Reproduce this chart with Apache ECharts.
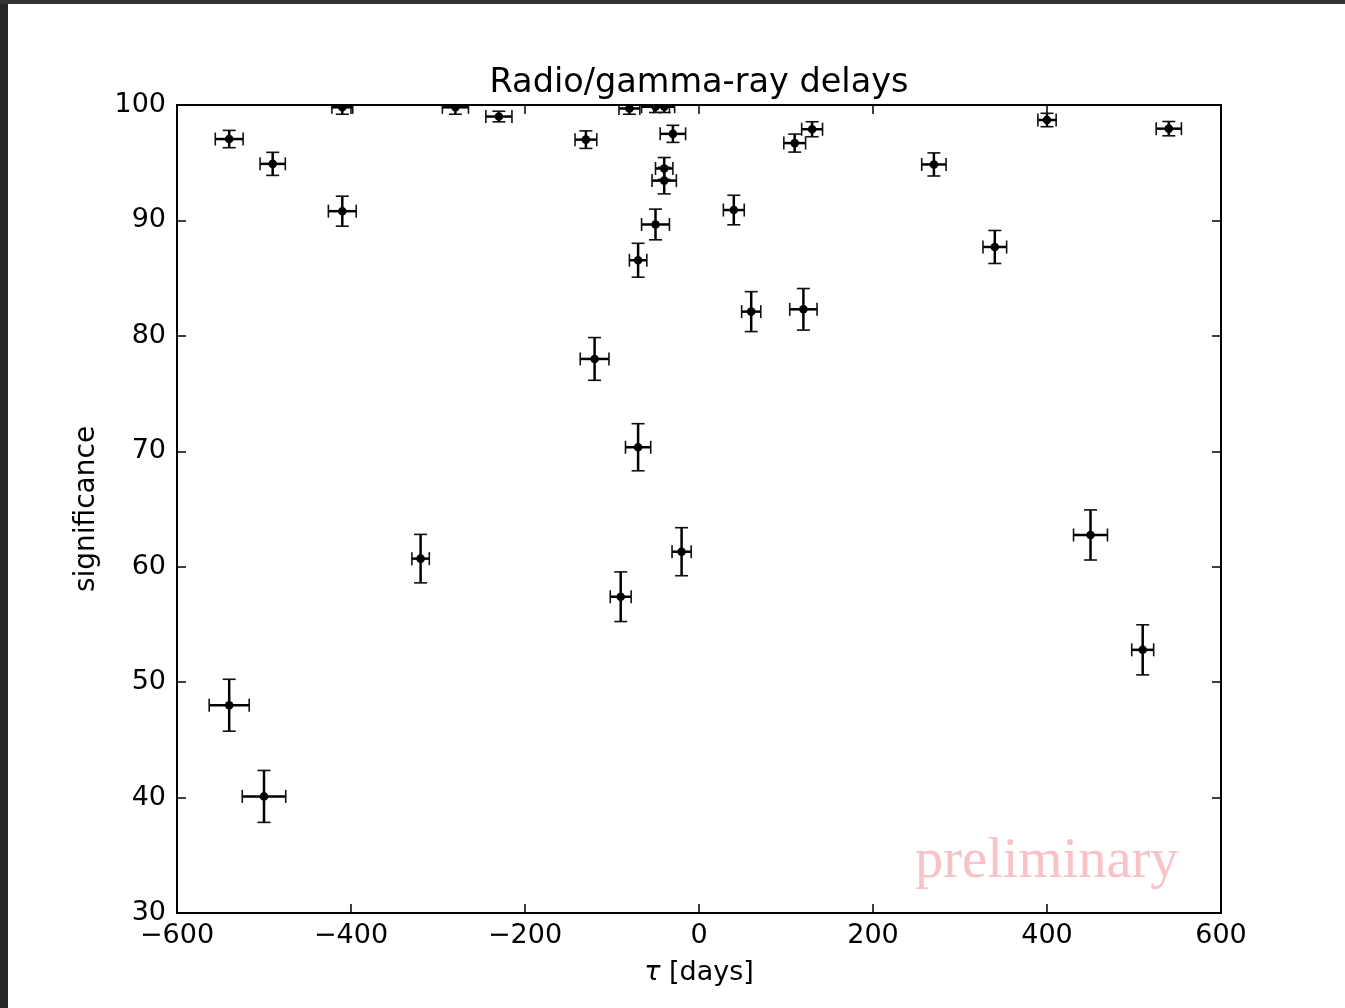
<!DOCTYPE html>
<html>
<head>
<meta charset="utf-8">
<script src="https://cdn.jsdelivr.net/npm/echarts@6/dist/echarts.min.js"></script>
<style>
html,body{margin:0;padding:0;background:#fff;}
#c{width:1345px;height:1008px;}
</style>
</head>
<body>
<div id="c"></div>
<script>
// delay tau [days]
const tau = [-540, -490, -410, -410, -280, -230, -500, -540, -320, -120, -130, -80, -50, -40, -30, -40, -40, -50, -70, -70, -20, -90, 40, 60, 120, 110, 130, 270, 340, 400, 450, 510, 540];
// significance
const significance = [97.05, 94.9, 90.8, 99.8, 99.8, 99.0, 40.1, 48.0, 60.7, 78.0, 97.0, 99.7, 99.85, 99.85, 97.5, 94.5, 93.45, 89.65, 86.55, 70.35, 61.3, 57.4, 90.9, 82.1, 82.3, 96.7, 97.9, 94.85, 87.7, 98.7, 62.75, 52.8, 97.95];
// horizontal (tau) errors
const tauErr = [16, 14.5, 16, 12, 15, 15, 25, 23, 10, 16.5, 12.5, 12, 16, 12, 14.6, 10, 14, 16, 10, 14.5, 11, 12, 12, 11, 15.7, 12.5, 12, 14, 13.6, 10.5, 19.5, 12.6, 14.5];
// vertical (significance) errors
const sigErr = [0.75, 1.0, 1.3, 0.6, 0.6, 0.46, 2.25, 2.25, 2.1, 1.85, 0.76, 0.5, 0.5, 0.5, 0.74, 0.95, 1.15, 1.33, 1.47, 2.04, 2.08, 2.15, 1.28, 1.73, 1.8, 0.78, 0.65, 1.0, 1.43, 0.58, 2.17, 2.17, 0.62];

const xTicks = [-600, -400, -200, 0, 200, 400, 600];
const yTicks = [30, 40, 50, 60, 70, 80, 90, 100];

const data = tau.map((t, i) => [t, significance[i], tauErr[i], sigErr[i]]);

const chart = echarts.init(document.getElementById('c'));
const font = 'DejaVu Sans';
const minus = v => String(v).replace('-', '\u2212');

const tickStyle = {inside: true, length: 9, lineStyle: {color: '#000', width: 1.5}};
const lineStyle = {show: true, onZero: false, lineStyle: {color: '#000', width: 2}};

chart.setOption({
  backgroundColor: '#fff',
  animation: false,
  grid: {left: 177, top: 105, width: 1044, height: 808, show: false},
  xAxis: [{
    type: 'value', min: -600, max: 600, interval: 200,
    axisLine: lineStyle, axisTick: tickStyle, splitLine: {show: false},
    axisLabel: {formatter: minus, color: '#000', fontFamily: font, fontSize: 27, margin: 9},
    name: '{i|\u03c4} [days]', nameLocation: 'middle', nameGap: 46,
    nameTextStyle: {color: '#000', fontFamily: font, fontSize: 27,
      rich: {i: {fontStyle: 'italic', fontFamily: font, fontSize: 27, color: '#000'}}}
  }, {
    type: 'value', position: 'top', min: -600, max: 600, interval: 200,
    axisLine: lineStyle, axisTick: tickStyle, splitLine: {show: false},
    axisLabel: {show: false}
  }],
  yAxis: [{
    type: 'value', min: 30, max: 100, interval: 10,
    axisLine: lineStyle, axisTick: tickStyle, splitLine: {show: false},
    axisLabel: {color: '#000', fontFamily: font, fontSize: 27, margin: 11},
    name: 'significance', nameLocation: 'middle', nameGap: 76, nameRotate: 90,
    nameTextStyle: {color: '#000', fontFamily: font, fontSize: 28}
  }, {
    type: 'value', position: 'right', min: 30, max: 100, interval: 10,
    axisLine: lineStyle, axisTick: tickStyle, splitLine: {show: false},
    axisLabel: {show: false}
  }],
  graphic: [
    {type: 'rect', shape: {x: 0, y: 0, width: 8, height: 1008}, style: {fill: '#262626'}, silent: true},
    {type: 'rect', shape: {x: 0, y: 0, width: 1345, height: 4}, style: {fill: '#333'}, silent: true},
    {type: 'text', x: 699, y: 83, style: {text: 'Radio/gamma-ray delays', fill: '#000', font: '33.5px "DejaVu Sans"', textAlign: 'center', textVerticalAlign: 'middle'}},
    {type: 'text', x: 915, y: 862, z: 100, style: {text: 'preliminary', fill: '#f7c3c8', font: '56.5px "Liberation Serif"', textAlign: 'left', textVerticalAlign: 'middle'}}
  ],
  series: [{
    type: 'custom',
    clip: true,
    data: data,
    renderItem: function (params, api) {
      const x = api.value(0), y = api.value(1), ex = api.value(2), ey = api.value(3);
      const c = api.coord([x, y]);
      const l = api.coord([x - ex, y]), r = api.coord([x + ex, y]);
      const t = api.coord([x, y + ey]), b = api.coord([x, y - ey]);
      const cap = 6.5;
      const st = {stroke: '#000', lineWidth: 2.5};
      const cs = {stroke: '#111', lineWidth: 1.6};
      return {
        type: 'group',
        children: [
          {type: 'line', shape: {x1: l[0], y1: l[1], x2: r[0], y2: r[1]}, style: st},
          {type: 'line', shape: {x1: t[0], y1: t[1], x2: b[0], y2: b[1]}, style: st},
          {type: 'line', shape: {x1: l[0], y1: l[1] - cap, x2: l[0], y2: l[1] + cap}, style: cs},
          {type: 'line', shape: {x1: r[0], y1: r[1] - cap, x2: r[0], y2: r[1] + cap}, style: cs},
          {type: 'line', shape: {x1: t[0] - cap, y1: t[1], x2: t[0] + cap, y2: t[1]}, style: cs},
          {type: 'line', shape: {x1: b[0] - cap, y1: b[1], x2: b[0] + cap, y2: b[1]}, style: cs},
          {type: 'circle', shape: {cx: c[0], cy: c[1], r: 4.3}, style: {fill: '#000'}}
        ]
      };
    }
  }]
});
</script>
</body>
</html>
